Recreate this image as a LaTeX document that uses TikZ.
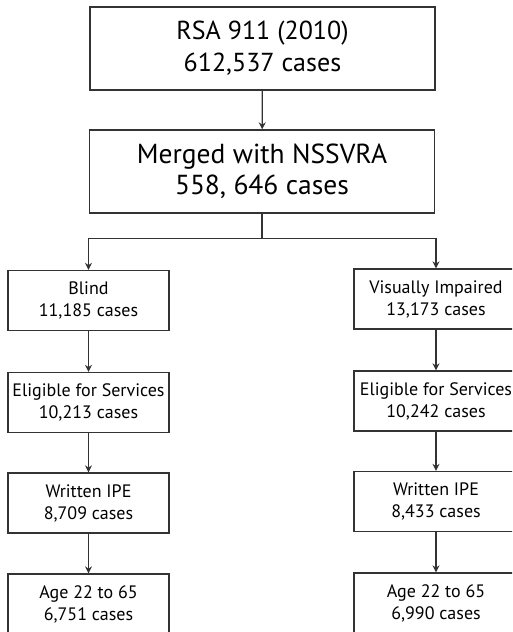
\documentclass[tikz,border=0pt]{standalone}
\usepackage{fontspec}
\setmainfont{PT Sans}
\usetikzlibrary{arrows.meta}
\begin{document}
\begin{tikzpicture}[x=1pt,y=-1pt,
  box/.style={draw=black!80, line width=1.3pt, fill=white, align=center, inner sep=0pt},
  bigbox/.style={box, minimum width=345pt, minimum height=83pt},
  smallbox/.style={box, minimum width=161pt, minimum height=60pt, font=\fontsize{18}{22}\selectfont},
  rbox/.style={smallbox, minimum width=164pt},
  arr/.style={draw=black!80, line width=1.2pt, -{Stealth[length=7pt,width=7pt]}},
  ln/.style={draw=black!80, line width=1.2pt}]
\useasboundingbox (0,0) rectangle (512,632);
\clip (0,0) rectangle (512,632);
\node[bigbox, font=\fontsize{26}{32}\selectfont] (rsa) at (262.5,48.5) {RSA 911 (2010)\\612,537 cases};
\node[bigbox, font=\fontsize{27.5}{31}\selectfont] (merged) at (262,171.5) {Merged with NSSVRA\\558, 646 cases};
\node[smallbox] (blind) at (88.5,300.5) {Blind\\11,185 cases};
\node[smallbox] (eligL) at (88.5,402.5) {Eligible for Services\\10,213 cases};
\node[smallbox] (writL) at (88.5,503) {Written IPE\\8,709 cases};
\node[smallbox] (ageL) at (88.5,604) {Age 22 to 65\\6,751 cases};
\node[rbox] (vi) at (436,299) {Visually Impaired\\13,173 cases};
\node[rbox] (eligR) at (436,401) {Eligible for Services\\10,242 cases};
\node[rbox] (writR) at (436,501.5) {Written IPE\\8,433 cases};
\node[rbox] (ageR) at (436,603) {Age 22 to 65\\6,990 cases};
\draw[arr] (rsa) -- (merged);
\draw[ln] (merged.south) -- ++(0,25) coordinate (j);
\draw[arr] (j) -| (blind.north);
\draw[arr] (j) -| (vi.north);
\draw[arr] (blind) -- (eligL);
\draw[arr] (eligL) -- (writL);
\draw[arr] (writL) -- (ageL);
\draw[arr] (vi) -- (eligR);
\draw[arr] (eligR) -- (writR);
\draw[arr] (writR) -- (ageR);
\end{tikzpicture}
\end{document}
